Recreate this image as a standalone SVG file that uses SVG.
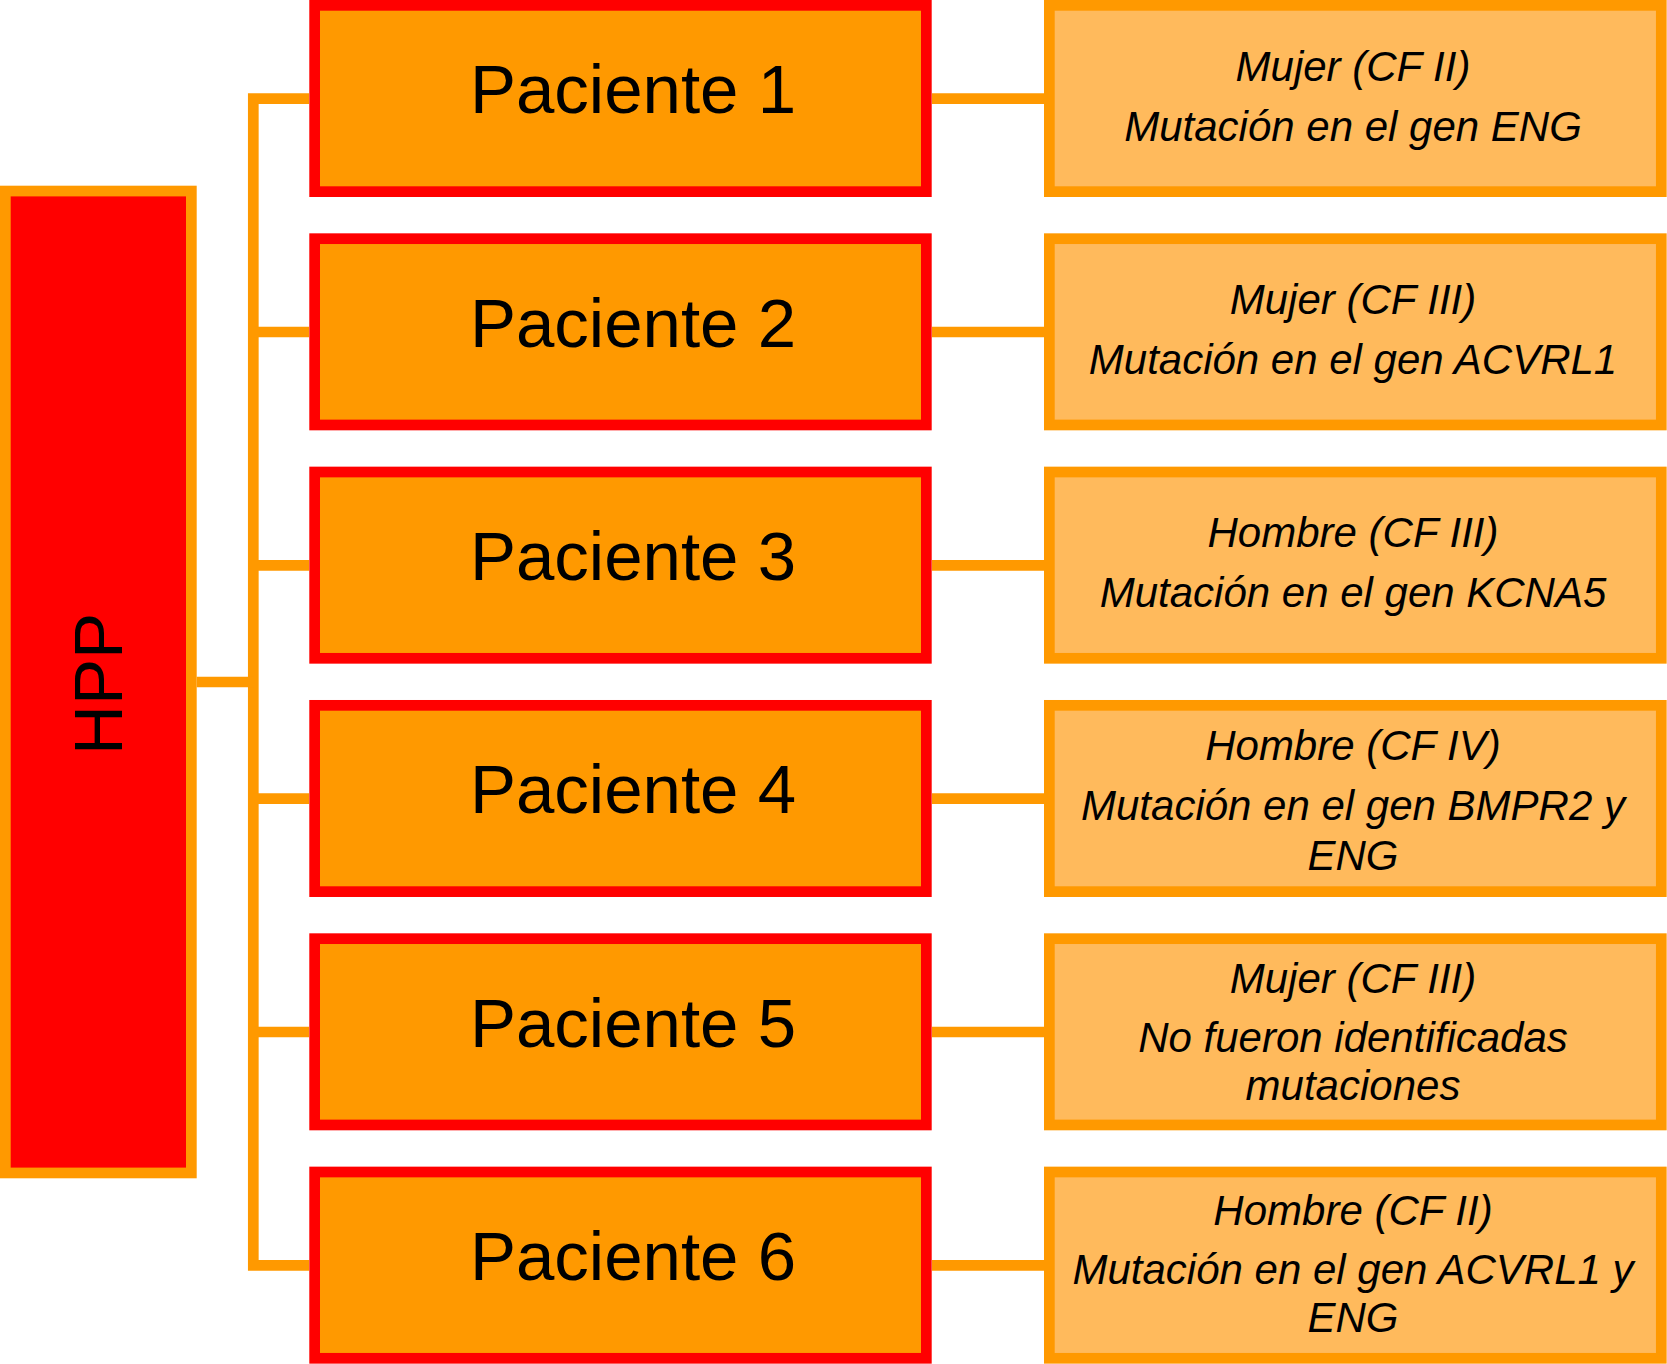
<svg xmlns="http://www.w3.org/2000/svg" width="1667" height="1364" viewBox="0 0 1667 1364">
<style>
.root{fill:#FF0000;stroke:#FF9900;stroke-width:10.7}
.pat{fill:#FF9900;stroke:#FF0000;stroke-width:10.7}
.info{fill:#FFBA5C;stroke:#FF9900;stroke-width:10.7}
.conn{fill:none;stroke:#FF9900;stroke-width:10.7;stroke-linejoin:miter}
.big{font-family:"Liberation Sans",Arial,Helvetica,sans-serif;font-size:69px;fill:#000;text-anchor:middle}
.det{font-family:"Liberation Sans",Arial,Helvetica,sans-serif;font-size:42px;font-style:italic;fill:#000;text-anchor:middle}
</style>
<rect width="1667" height="1364" fill="#FFFFFF"/>
<g id="connectors">
<path class="conn" d="M309 98.7 H253.3 V1265.3 H309"/>
<path class="conn" d="M196.7 682 H253.3"/>
<path class="conn" d="M253.3 332 H309"/>
<path class="conn" d="M253.3 565.3 H309"/>
<path class="conn" d="M253.3 798.7 H309"/>
<path class="conn" d="M253.3 1032 H309"/>
<path class="conn" d="M932 98.7 H1044"/>
<path class="conn" d="M932 332 H1044"/>
<path class="conn" d="M932 565.3 H1044"/>
<path class="conn" d="M932 798.7 H1044"/>
<path class="conn" d="M932 1032 H1044"/>
<path class="conn" d="M932 1265.3 H1044"/>
</g>
<g id="hpp">
<rect class="root" x="5.35" y="191.05" width="186" height="981.9"/>
<text class="big" transform="translate(121.5,684) rotate(-90)">HPP</text>
</g>
<g id="paciente1">
<rect class="pat" x="314.65" y="5.35" width="611.7" height="186.3"/>
<text class="big" x="633" y="113.3">Paciente 1</text>
</g>
<g id="paciente2">
<rect class="pat" x="314.65" y="238.68" width="611.7" height="186.3"/>
<text class="big" x="633" y="346.6">Paciente 2</text>
</g>
<g id="paciente3">
<rect class="pat" x="314.65" y="472.01" width="611.7" height="186.3"/>
<text class="big" x="633" y="580">Paciente 3</text>
</g>
<g id="paciente4">
<rect class="pat" x="314.65" y="705.34" width="611.7" height="186.3"/>
<text class="big" x="633" y="813.3">Paciente 4</text>
</g>
<g id="paciente5">
<rect class="pat" x="314.65" y="938.67" width="611.7" height="186.3"/>
<text class="big" x="633" y="1046.6">Paciente 5</text>
</g>
<g id="paciente6">
<rect class="pat" x="314.65" y="1172" width="611.7" height="186.3"/>
<text class="big" x="633" y="1280">Paciente 6</text>
</g>
<g id="info1">
<rect class="info" x="1049.35" y="5.35" width="611.95" height="186.3"/>
<text class="det" x="1353" y="80.5">Mujer (CF II)</text>
<text class="det" x="1353" y="140.5">Mutación en el gen ENG</text>
</g>
<g id="info2">
<rect class="info" x="1049.35" y="238.68" width="611.95" height="186.3"/>
<text class="det" x="1353" y="313.8">Mujer (CF III)</text>
<text class="det" x="1353" y="373.8">Mutación en el gen ACVRL1</text>
</g>
<g id="info3">
<rect class="info" x="1049.35" y="472.01" width="611.95" height="186.3"/>
<text class="det" x="1353" y="547.1">Hombre (CF III)</text>
<text class="det" x="1353" y="607.1">Mutación en el gen KCNA5</text>
</g>
<g id="info4">
<rect class="info" x="1049.35" y="705.34" width="611.95" height="186.3"/>
<text class="det" x="1353" y="759.5">Hombre (CF IV)</text>
<text class="det" x="1353" y="819.5">Mutación en el gen BMPR2 y</text>
<text class="det" x="1353" y="869.5">ENG</text>
</g>
<g id="info5">
<rect class="info" x="1049.35" y="938.67" width="611.95" height="186.3"/>
<text class="det" x="1353" y="992.8">Mujer (CF III)</text>
<text class="det" x="1353" y="1051.8">No fueron identificadas</text>
<text class="det" x="1353" y="1099.8">mutaciones</text>
</g>
<g id="info6">
<rect class="info" x="1049.35" y="1172" width="611.95" height="186.3"/>
<text class="det" x="1353" y="1225.1">Hombre (CF II)</text>
<text class="det" x="1353" y="1284.1">Mutación en el gen ACVRL1 y</text>
<text class="det" x="1353" y="1332.1">ENG</text>
</g>
</svg>
